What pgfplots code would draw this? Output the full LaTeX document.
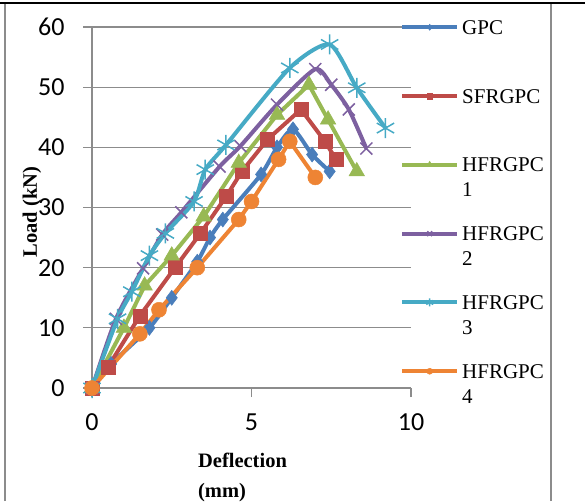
\documentclass[border=0pt]{standalone}
\usepackage{pgfplots}
\pgfplotsset{compat=1.18}
\usepackage{fontspec}
\setmainfont{Liberation Serif}
\newfontfamily\tickfont{Carlito}

\definecolor{cGPC}{HTML}{4A7EBB}
\definecolor{cSF}{HTML}{BE4B48}
\definecolor{cH1}{HTML}{98B954}
\definecolor{cH2}{HTML}{7D60A0}
\definecolor{cH3}{HTML}{46AAC5}
\definecolor{cH4}{HTML}{EE8434}
\definecolor{gridgray}{HTML}{8C8C8C}

\pgfplotstableread{
x y
0 0
0.6 4
1.8 10
2.5 15
3.3 21
3.7 25
4.1 28
5.3 35.5
5.8 40
6.3 43
6.9 38.8
7.45 36
}\gpc
\pgfplotstableread{
x y
0 0
0.5 3.5
1.5 12
2.6 20
3.4 25.7
4.2 31.8
4.7 36
5.5 41.3
6.55 46.3
7.3 41
7.65 38
}\sfrgpc
\pgfplotstableread{
x y
0 0
1.0 10
1.65 17
2.5 22
3.5 28.5
4.6 37.4
5.8 45.4
6.8 50.4
7.4 44.6
8.3 36
}\hone
\pgfplotstableread{
x y
0 0
0.75 11.5
1.6 19.9
2.2 25.5
2.8 29.2
4.0 36.8
4.65 40.2
5.8 47.1
7.0 53
7.5 50.4
8.05 46.3
8.6 39.8
}\htwo
\pgfplotstableread{
x y
0 0
0.8 11.5
1.25 16
1.8 22
2.3 25.7
3.2 31
3.55 36.3
4.2 40.4
6.2 53.2
7.45 57.1
8.3 49.9
9.2 43.2
}\hthree
\pgfplotstableread{
x y
0 0
1.5 9
2.1 13
3.3 20
4.6 28
5.0 31
5.85 38
6.2 41
7.0 35
}\hfour

\begin{document}
\begin{tikzpicture}[x=1pt,y=1pt]
\useasboundingbox (0,0) rectangle (585,501);
\draw[gridgray, line width=1.2pt] (5,0) -- (5,498);
\draw[gridgray, line width=1.2pt] (551,0) -- (551,498);
\draw[black, line width=2pt] (0,498) -- (585,498);
\begin{axis}[
  at={(92pt,113pt)}, anchor=south west,
  scale only axis, width=319pt, height=361pt,
  xmin=0, xmax=10, ymin=0, ymax=60,
  xtick={0,5,10}, ytick={0,10,...,60},
  axis x line=bottom, axis y line=left,
  axis line style={gridgray, line width=1.2pt, -},
  ymajorgrids, grid style={gridgray, line width=1.2pt},
  tick style={gridgray, line width=1.2pt},
  tick align=outside, major tick length=9pt,
  clip=false,
  /pgf/number format/assume math mode=true,
  ticklabel style={font=\tickfont\fontsize{26}{26}\selectfont, text=black},
  yticklabel style={xshift=-15pt},
  xticklabel style={yshift=-13pt},
  xlabel={Deflection\\(mm)},
  xlabel style={at={(rel axis cs:0.332,-0.18)}, anchor=north west, align=left,
    font=\bfseries\fontsize{20.5}{30}\selectfont, inner sep=0pt},
  ylabel={Load (kN)},
  ylabel style={at={(rel axis cs:-0.188,0.4875)}, anchor=center, rotate=0,
    font=\bfseries\fontsize{20.5}{24}\selectfont, inner sep=0pt},
  legend style={at={(rel axis cs:0.9655,1.022)}, anchor=north west,
    draw=none, fill=none, inner sep=0pt, row sep=0pt,
    column sep=3pt,
    font=\fontsize{21}{25}\selectfont,
    nodes={inner sep=0pt, text height=15pt, text depth=53.8pt, anchor=base west}},
  legend cell align=left,
  legend image code/.code={
    \draw[#1, /tikz/every mark/.append style={scale=0.4}, mark repeat=2, mark phase=2]
      plot coordinates {(0pt,7pt) (27.5pt,7pt) (55pt,7pt)};
  },
  every axis plot/.append style={line width=4pt},
]
\addplot[cGPC, smooth, tension=0.4, mark=diamond*, mark size=7.5pt,
  mark options={solid, line width=0.5pt}] table {\gpc};
\addlegendentry{GPC}
\addplot[cSF, mark=square*, mark size=7pt,
  mark options={solid, line width=0.5pt}] table {\sfrgpc};
\addlegendentry{SFRGPC}
\addplot[cH1, mark=triangle*, mark size=9pt,
  mark options={solid, line width=0.5pt}] table {\hone};
\addlegendentry{\begin{tabular}[t]{@{}l@{}}HFRGPC\\1\end{tabular}}
\addplot[cH2, smooth, tension=0.4, mark=x, mark size=8.5pt,
  mark options={solid, line width=1.5pt}] table {\htwo};
\addlegendentry{\begin{tabular}[t]{@{}l@{}}HFRGPC\\2\end{tabular}}
\addplot[cH3, smooth, tension=0.4, mark=asterisk, mark size=10pt,
  mark options={solid, line width=1.5pt}] table {\hthree};
\addlegendentry{\begin{tabular}[t]{@{}l@{}}HFRGPC\\3\end{tabular}}
\addplot[cH4, mark=*, mark size=7.5pt,
  mark options={solid, line width=0.5pt}] table {\hfour};
\addlegendentry{\begin{tabular}[t]{@{}l@{}}HFRGPC\\4\end{tabular}}
\end{axis}
\end{tikzpicture}
\end{document}
